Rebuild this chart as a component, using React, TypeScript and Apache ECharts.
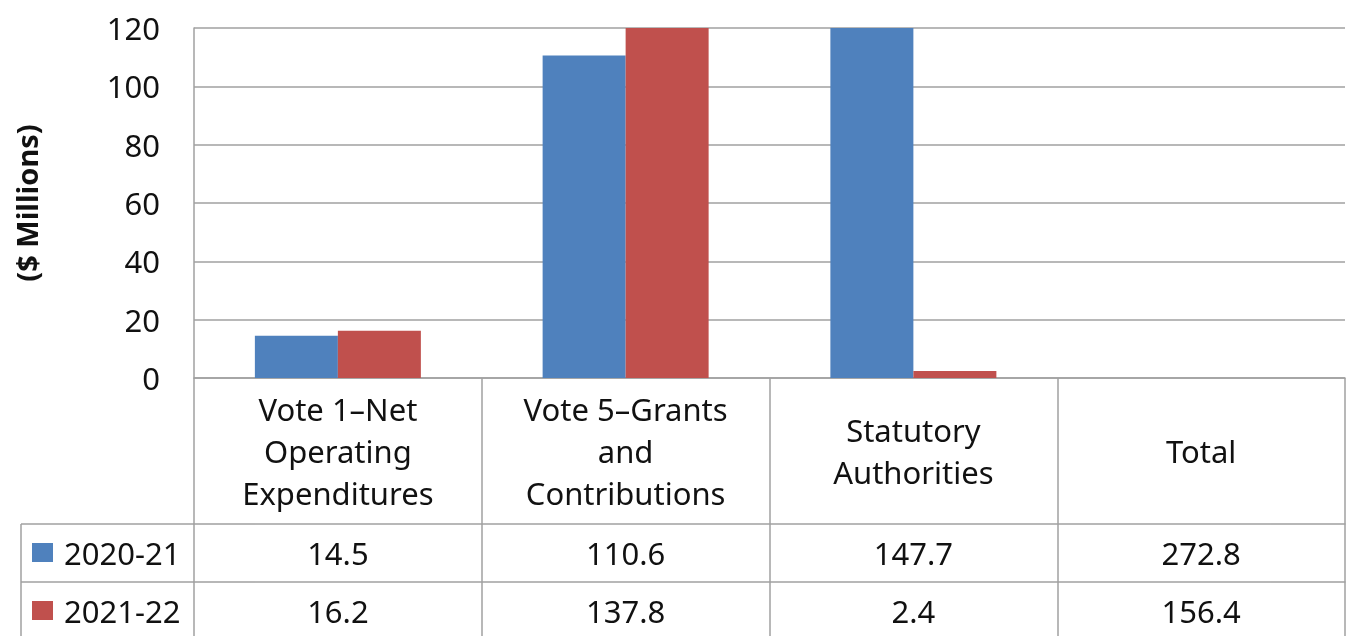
import React, { useEffect, useRef } from "react";
import * as echarts from "echarts";

const categories = [
  "Vote 1–Net\nOperating\nExpenditures",
  "Vote 5–Grants\nand\nContributions",
  "Statutory\nAuthorities",
  "Total",
];
const seriesNames = ["2020-21", "2021-22"];
const values2020 = [14.5, 110.6, 147.7, 272.8];
const values2021 = [16.2, 137.8, 2.4, 156.4];
const yTicks = { min: 0, max: 120, interval: 20 };
const colors = ["#4F81BD", "#C0504D"];

const FONT = "Noto Sans";
const LINE = "#A0A0A0";

export default function App() {
  const ref = useRef<HTMLDivElement>(null);
  useEffect(() => {
    document.body.style.margin = "0";
    const chart = echarts.init(ref.current!, null, { renderer: "svg" });
    const gridLeft = 194;
    const gridTop = 28;
    const gridBottomY = 378;
    const headerH = 146;
    const rowH = 58;
    const legendLeft = 21;
    // bars are not drawn for the Total column
    const barData = (arr: number[]) =>
      arr.map((v, i) => (categories[i] === "Total" ? null : v));
    const tableAxis = (data: string[], offset: number, len: number, margin: number, lh?: number) => ({
      type: "category",
      position: "bottom",
      offset,
      data,
      boundaryGap: true,
      axisLine: { show: true, lineStyle: { color: LINE, width: 1.5 } },
      axisTick: { show: true, length: len, interval: 0, lineStyle: { color: LINE, width: 1.5 } },
      axisLabel: {
        interval: 0,
        margin,
        verticalAlign: "middle",
        fontSize: 31,
        fontFamily: FONT,
        color: "#111",
        lineHeight: lh,
      },
    });
    const legendItem = (i: number) => ({
      orient: "horizontal",
      left: 32,
      top: 537 + i * rowH,
      padding: 0,
      itemWidth: 21,
      itemHeight: 19,
      icon: "rect",
      data: [seriesNames[i]],
      textStyle: { fontSize: 31, fontFamily: FONT, color: "#111", padding: [0, 0, 0, 6] },
    });
    chart.setOption({
      animation: false,
      textStyle: { fontFamily: FONT },
      grid: {
        left: gridLeft,
        top: gridTop,
        right: 2,
        height: gridBottomY - gridTop,
        containLabel: false,
        outerBoundsMode: "none",
      },
      legend: [legendItem(0), legendItem(1)],
      xAxis: [
        tableAxis(categories, 0, headerH, headerH / 2, 42),
        tableAxis(values2020.map((v) => v.toFixed(1)), headerH, rowH, rowH / 2),
        tableAxis(values2021.map((v) => v.toFixed(1)), headerH + rowH, rowH, rowH / 2),
      ],
      yAxis: {
        type: "value",
        min: yTicks.min,
        max: yTicks.max,
        interval: yTicks.interval,
        name: "($ Millions)",
        nameLocation: "middle",
        nameGap: 153,
        nameRotate: 90,
        nameTextStyle: { fontSize: 29, fontWeight: "bold", fontFamily: FONT, color: "#111" },
        axisLine: { show: true, lineStyle: { color: LINE, width: 1.5 } },
        axisTick: { show: false },
        axisLabel: { fontSize: 31, fontFamily: FONT, color: "#111", margin: 34 },
        splitLine: { show: true, lineStyle: { color: LINE, width: 1.5 } },
      },
      series: [
        {
          name: seriesNames[0],
          type: "bar",
          xAxisIndex: 0,
          data: barData(values2020),
          barWidth: 83,
          barGap: "0%",
          itemStyle: { color: colors[0] },
          clip: true,
        },
        {
          name: seriesNames[1],
          type: "bar",
          xAxisIndex: 0,
          data: barData(values2021),
          barWidth: 83,
          barGap: "0%",
          itemStyle: { color: colors[1] },
          clip: true,
        },
      ],
      graphic: [
        {
          type: "line",
          shape: { x1: legendLeft, y1: gridBottomY + headerH, x2: gridLeft, y2: gridBottomY + headerH },
          style: { stroke: LINE, lineWidth: 1.5 },
        },
        {
          type: "line",
          shape: { x1: legendLeft, y1: gridBottomY + headerH + rowH, x2: gridLeft, y2: gridBottomY + headerH + rowH },
          style: { stroke: LINE, lineWidth: 1.5 },
        },
        {
          type: "line",
          shape: { x1: legendLeft, y1: gridBottomY + headerH, x2: legendLeft, y2: gridBottomY + headerH + 2 * rowH },
          style: { stroke: LINE, lineWidth: 1.5 },
        },
      ],
    });
    return () => chart.dispose();
  }, []);
  return (
    <div
      ref={ref}
      style={{ position: "fixed", left: 0, top: 0, width: 1347, height: 636 }}
    />
  );
}
